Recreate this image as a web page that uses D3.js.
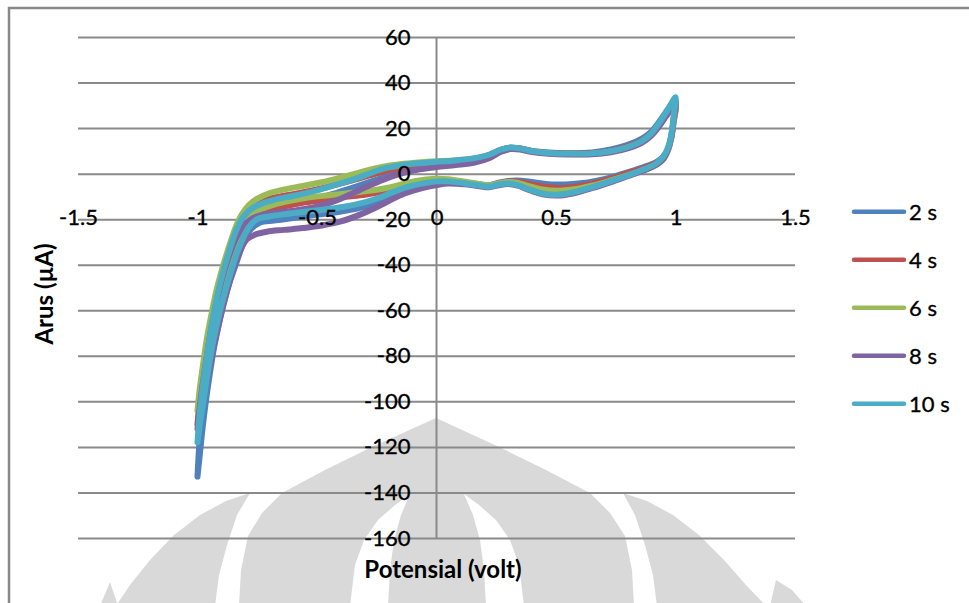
<!DOCTYPE html>
<html>
<head>
<meta charset="utf-8">
<script src="https://cdnjs.cloudflare.com/ajax/libs/d3/7.8.5/d3.min.js"></script>
<style>
    body { margin: 0; background: #fff; }
    text { font-family: Lato, "Open Sans", sans-serif; fill: #000; }
</style>
</head>
<body>
<div id="chart"></div>
<script>
//The size of the picture and of the plot area
var width = 969, height = 603;
var plot = {left: 78, right: 795, top: 37, bottom: 538};

// series names and colours (Excel 2007 palette)
var seriesNames = ["2 s", "4 s", "6 s", "8 s", "10 s"];
var seriesColors = ["#4F81BD", "#C0504D", "#9BBB59", "#8064A2", "#4BACC6"];

// tick labels
var xTicks = [-1.5, -1, -0.5, 0, 0.5, 1, 1.5];
var yTicks = [-160, -140, -120, -100, -80, -60, -40, -20, 0, 20, 40, 60];

// cyclic voltammograms, [potential (volt), current (uA)]
var cv2s = [[-1,-133],[-0.992,-118],[-0.98,-103],[-0.965,-89],[-0.948,-75],[-0.93,-63],[-0.91,-52],[-0.89,-43],[-0.87,-36],[-0.85,-29.5],[-0.83,-24.5],[-0.805,-20.5],[-0.775,-17.8],[-0.74,-16.3],
    [-0.66,-14.5],[-0.58,-13],[-0.5,-11],[-0.42,-8.5],[-0.34,-5.8],[-0.26,-3],[-0.18,-0.3],[-0.1,2],[0,3.8],[0.08,5],[0.16,6.3],[0.22,8],[0.27,10.4],[0.31,11.4],[0.35,11],[0.4,10],[0.47,9.3],[0.55,9],[0.65,9.3],[0.73,10.6],[0.8,12.6],[0.86,15.4],[0.9,18.6],[0.94,24],[0.97,28.5],[1,32],
    [0.992,24],[0.983,16.5],[0.97,11],[0.95,7.6],[0.92,5.1],[0.87,3],[0.8,0.6],[0.73,-1.6],[0.65,-3.5],[0.57,-4.5],[0.51,-4.8],[0.45,-4.4],[0.39,-3.6],[0.34,-3],[0.3,-3.2],[0.26,-4],[0.22,-5.2],[0.18,-4.8],[0.12,-3.9],[0.05,-3.3],[0,-3.4],[-0.06,-4.5],[-0.12,-6.6],[-0.18,-9.6],[-0.24,-12.6],[-0.32,-15],[-0.4,-16.6],[-0.5,-18],[-0.6,-19.5],[-0.68,-20.6],[-0.74,-21.6],
    [-0.785,-25.5],[-0.81,-31],[-0.835,-38.5],[-0.866,-48],[-0.89,-57],[-0.91,-66],[-0.93,-76],[-0.95,-89],[-0.965,-100],[-0.978,-111],[-0.99,-123],[-1,-133]];

var cv4s = [[-1,-110],[-0.99,-99],[-0.977,-88],[-0.96,-76],[-0.94,-64],[-0.92,-54],[-0.9,-45],[-0.88,-37.5],[-0.86,-30.5],[-0.84,-24.5],[-0.815,-19],[-0.785,-15],[-0.75,-12.6],
    [-0.68,-10.6],[-0.6,-9],[-0.52,-7.4],[-0.44,-5.4],[-0.36,-3.2],[-0.28,-0.8],[-0.2,1.5],[-0.1,3.3],[0,4.4],[0.08,5.3],[0.16,6.5],[0.22,8.1],[0.27,10.4],[0.31,11.4],[0.35,11],[0.4,9.9],[0.47,9.1],[0.55,8.8],[0.65,9],[0.73,10.1],[0.8,12],[0.86,14.6],[0.9,17.8],[0.94,22.5],[0.97,26.5],[1,29.5],
    [0.992,22.5],[0.982,15.5],[0.968,10.5],[0.95,7.1],[0.92,4.7],[0.87,2.6],[0.8,0.2],[0.73,-2.2],[0.65,-4.4],[0.57,-5.9],[0.51,-6.3],[0.45,-5.8],[0.39,-4.6],[0.34,-3.6],[0.3,-3.5],[0.26,-4.2],[0.22,-5.2],[0.18,-4.7],[0.12,-3.8],[0.05,-2.9],[0,-2.8],[-0.05,-3.4],[-0.1,-4.2],[-0.16,-6],[-0.22,-7.7],[-0.3,-9.3],[-0.38,-10.2],[-0.46,-11.3],[-0.55,-12.6],[-0.63,-14.3],[-0.7,-16.3],[-0.74,-17.8],
    [-0.775,-21],[-0.8,-25.5],[-0.83,-33],[-0.86,-43],[-0.89,-55],[-0.92,-68],[-0.95,-84],[-0.975,-98],[-0.99,-105],[-1,-110]];

var cv6s = [[-1,-104],[-0.99,-94],[-0.977,-84],[-0.96,-72],[-0.94,-61],[-0.92,-51],[-0.9,-43],[-0.88,-36],[-0.86,-29.5],[-0.84,-23.5],[-0.815,-18],[-0.785,-13.8],[-0.75,-11],
    [-0.7,-8.6],[-0.64,-7],[-0.56,-5.4],[-0.48,-3.8],[-0.41,-2],[-0.34,0],[-0.27,2],[-0.2,3.5],[-0.12,4.5],[-0.05,5.1],[0,5.4],[0.08,5.9],[0.16,6.7],[0.22,8.1],[0.27,10.3],[0.31,11.2],[0.35,10.8],[0.4,9.7],[0.47,8.9],[0.55,8.6],[0.65,8.7],[0.73,9.7],[0.8,11.4],[0.86,14],[0.9,17.2],[0.94,22.5],[0.97,27],[1,30.5],
    [0.992,23],[0.982,15.5],[0.968,10],[0.95,6.4],[0.92,3.9],[0.87,1.6],[0.8,-0.8],[0.73,-3],[0.65,-5.3],[0.57,-7],[0.51,-7.5],[0.45,-7.1],[0.39,-5.6],[0.34,-4.1],[0.3,-3.7],[0.26,-4.3],[0.22,-5.1],[0.18,-4.6],[0.12,-3.6],[0.05,-2.5],[0,-2.2],[-0.05,-2.7],[-0.1,-3.5],[-0.16,-5.1],[-0.22,-6.5],[-0.3,-7.8],[-0.38,-8.7],[-0.46,-9.6],[-0.55,-10.7],[-0.63,-12.3],[-0.7,-14.3],[-0.75,-16.5],
    [-0.785,-20],[-0.815,-26],[-0.845,-34],[-0.875,-44],[-0.905,-56],[-0.935,-70],[-0.96,-84],[-0.98,-95],[-1,-104]];

var cv8s = [[-1,-112],[-0.99,-102],[-0.975,-90],[-0.955,-76],[-0.935,-64],[-0.915,-54],[-0.895,-45.5],[-0.875,-38.5],[-0.855,-32.5],[-0.835,-27.5],[-0.81,-23.3],[-0.78,-20.3],[-0.74,-18.4],
    [-0.68,-17.2],[-0.6,-16.3],[-0.52,-15],[-0.46,-13.3],[-0.4,-11],[-0.35,-8.6],[-0.29,-5.7],[-0.22,-2.6],[-0.15,0],[-0.07,1.9],[0,2.9],[0.08,3.8],[0.16,4.9],[0.22,6.8],[0.27,9.6],[0.31,10.8],[0.35,10.6],[0.4,9.5],[0.47,8.7],[0.55,8.4],[0.65,8.5],[0.73,9.4],[0.8,11.1],[0.86,13.6],[0.9,16.8],[0.94,22],[0.97,27],[1,31],
    [0.992,23.5],[0.982,16],[0.968,10.5],[0.95,6.6],[0.92,3.9],[0.87,1.5],[0.8,-1.1],[0.73,-3.7],[0.65,-6.4],[0.57,-8.7],[0.51,-9.6],[0.45,-9.2],[0.39,-7.3],[0.34,-5.3],[0.3,-4.6],[0.26,-5.1],[0.22,-6],[0.18,-5.5],[0.12,-4.7],[0.05,-4.3],[0,-5],[-0.06,-6.3],[-0.13,-8.6],[-0.2,-12],[-0.26,-15.2],[-0.32,-18],[-0.4,-21],[-0.48,-22.8],[-0.56,-23.9],[-0.64,-24.7],[-0.71,-25.5],[-0.76,-26.8],
    [-0.795,-29],[-0.82,-33.5],[-0.845,-40],[-0.87,-49],[-0.9,-61],[-0.93,-75],[-0.955,-88],[-0.975,-99],[-0.99,-106],[-1,-112]];

var cv10s = [[-1,-118],[-0.99,-105],[-0.975,-91],[-0.958,-78],[-0.94,-66],[-0.92,-55],[-0.9,-46],[-0.88,-38.5],[-0.86,-31.5],[-0.84,-25.5],[-0.815,-20],[-0.785,-16.3],[-0.75,-14],
    [-0.68,-11.5],[-0.6,-9.8],[-0.52,-7.9],[-0.44,-5.5],[-0.36,-3],[-0.29,-0.3],[-0.21,2.5],[-0.14,3.8],[-0.07,4.6],[0,5.2],[0.08,5.8],[0.16,6.8],[0.22,8.3],[0.27,10.6],[0.31,11.5],[0.35,11.1],[0.4,9.9],[0.47,9.1],[0.55,8.8],[0.65,8.9],[0.73,9.9],[0.8,11.7],[0.86,14.4],[0.9,17.8],[0.94,23.5],[0.97,28.5],[1,33.5],
    [0.993,26],[0.985,19],[0.972,12.5],[0.95,7.6],[0.92,4.5],[0.87,2],[0.8,-0.8],[0.73,-3.3],[0.65,-6],[0.57,-8.3],[0.51,-9.2],[0.45,-8.8],[0.39,-7],[0.34,-5],[0.3,-4.3],[0.26,-4.8],[0.22,-5.7],[0.18,-5.2],[0.12,-4.3],[0.05,-3.4],[0,-3.4],[-0.06,-4.4],[-0.12,-5.8],[-0.18,-8],[-0.24,-10.6],[-0.3,-12.6],[-0.38,-14.4],[-0.46,-15.6],[-0.54,-16.6],[-0.62,-17.6],[-0.7,-18.8],[-0.75,-20],
    [-0.785,-23.5],[-0.81,-28.5],[-0.835,-35],[-0.86,-43],[-0.885,-52],[-0.91,-62],[-0.935,-74],[-0.955,-86],[-0.975,-100],[-0.99,-110],[-1,-118]];

var seriesData = [cv2s, cv4s, cv6s, cv8s, cv10s];

// append the svg object to the body of the page
var svg = d3.select("#chart")
    .append("svg")
    .attr("width", width)
    .attr("height", height);

// grey watermark behind the chart (page background of the scan)
var mark = d3.line().curve(d3.curveLinearClosed);
var wmGrey = [
    [[239,606],[241,570],[248,536],[262,513],[282,493],[325,470],[374,446],[436,418],[497,446],[546,470],[590,493],[610,513],[625,536],[632,570],[634,606]],
    [[250,493],[226,501],[200,515],[174,535],[150,560],[130,585],[116,606],[215,606],[219,575],[227,545],[237,515]],
    [[623,493],[647,501],[673,515],[699,535],[724,560],[746,585],[766,606],[657,606],[653,575],[645,545],[635,515]],
    [[776,580],[792,590],[806,606],[770,606]],
    [[110,582],[100,606],[118,606]]
];
var wmWhite = [
    [[410,494],[395,505],[378,520],[364,540],[355,565],[350,606],[388,606],[390,570],[394,540],[401,515]],
    [[464,494],[479,505],[496,520],[510,540],[519,565],[524,606],[486,606],[484,570],[480,540],[473,515]]
];
svg.append("g").selectAll("path.wg").data(wmGrey).enter().append("path")
    .attr("d", mark).attr("fill", "#d9d9d9");
svg.append("g").selectAll("path.ww").data(wmWhite).enter().append("path")
    .attr("d", mark).attr("fill", "#fff");

// outer chart border
svg.append("rect")
    .attr("x", 9).attr("y", 8)
    .attr("width", 1000).attr("height", 700)
    .attr("fill", "none")
    .attr("stroke", "#898989")
    .attr("stroke-width", 2.5);

// scales
var x = d3.scaleLinear().domain([-1.5, 1.5]).range([plot.left, plot.right]);
var y = d3.scaleLinear().domain([-160, 60]).range([plot.bottom, plot.top]);

// horizontal gridlines
svg.append("g")
    .attr("transform", "translate(" + plot.left + ",0)")
    .call(d3.axisRight(y).tickValues(yTicks).tickSize(plot.right - plot.left).tickFormat(""))
    .call(function (g) { g.select(".domain").remove(); })
    .selectAll("line")
    .attr("stroke", "#8a8a8a")
    .attr("stroke-width", 2);

// vertical axis line through x = 0
svg.append("line")
    .attr("x1", x(0)).attr("x2", x(0))
    .attr("y1", y(60)).attr("y2", y(-160))
    .attr("stroke", "#8a8a8a")
    .attr("stroke-width", 2);

// curves
var line = d3.line()
    .x(function (d) { return x(d[0]); })
    .y(function (d) { return y(d[1]); })
    .curve(d3.curveCatmullRom.alpha(0.5));

svg.append("g").selectAll("path.cv")
    .data(seriesData)
    .enter()
    .append("path")
    .attr("d", line)
    .attr("fill", "none")
    .attr("stroke", function (d, i) { return seriesColors[i]; })
    .attr("stroke-width", 6)
    .attr("stroke-linejoin", "round")
    .attr("stroke-linecap", "round");

// Y axis labels (drawn over the curves, like the original)
svg.append("g")
    .attr("transform", "translate(" + x(0) + ",0)")
    .call(d3.axisLeft(y).tickValues(yTicks).tickSize(0).tickPadding(26).tickFormat(function (d) { return String(d); }))
    .call(function (g) { g.select(".domain").remove(); })
    .selectAll("text")
    .attr("font-size", "22px")
    .attr("font-family", "Lato, sans-serif")
    .attr("stroke", "#000")
    .attr("stroke-width", 0.35);

// X axis labels, sitting on the -20 line
svg.append("g")
    .attr("transform", "translate(0," + (y(-20) - 2) + ")")
    .call(d3.axisBottom(x).tickValues(xTicks).tickSize(0).tickPadding(0).tickFormat(function (d) { return String(d); }))
    .call(function (g) { g.select(".domain").remove(); })
    .selectAll("text")
    .attr("y", 0)
    .attr("dy", "0.36em")
    .attr("font-size", "22px")
    .attr("font-family", "Lato, sans-serif")
    .attr("stroke", "#000")
    .attr("stroke-width", 0.35);

// axis titles
svg.append("text")
    .attr("x", 443).attr("y", 578)
    .attr("text-anchor", "middle")
    .attr("font-size", "24px")
    .attr("font-weight", "bold")
    .text("Potensial (volt)");

svg.append("text")
    .attr("transform", "translate(45,294)rotate(-90)")
    .attr("text-anchor", "middle")
    .attr("dy", "0.35em")
    .attr("font-size", "24px")
    .attr("font-weight", "bold")
    .text("Arus (µA)");

// legend
var legend = svg.append("g").selectAll("g")
    .data(seriesNames)
    .enter()
    .append("g")
    .attr("transform", function (d, i) { return "translate(0," + (211.7 + i * 48) + ")"; });
legend.append("line")
    .attr("x1", 854).attr("x2", 904)
    .attr("stroke", function (d, i) { return seriesColors[i]; })
    .attr("stroke-width", 4.5)
    .attr("stroke-linecap", "round");
legend.append("text")
    .attr("x", 909)
    .attr("dy", "0.36em")
    .attr("font-size", "22px")
    .attr("stroke", "#000")
    .attr("stroke-width", 0.35)
    .text(function (d) { return d; });
</script>
</body>
</html>
